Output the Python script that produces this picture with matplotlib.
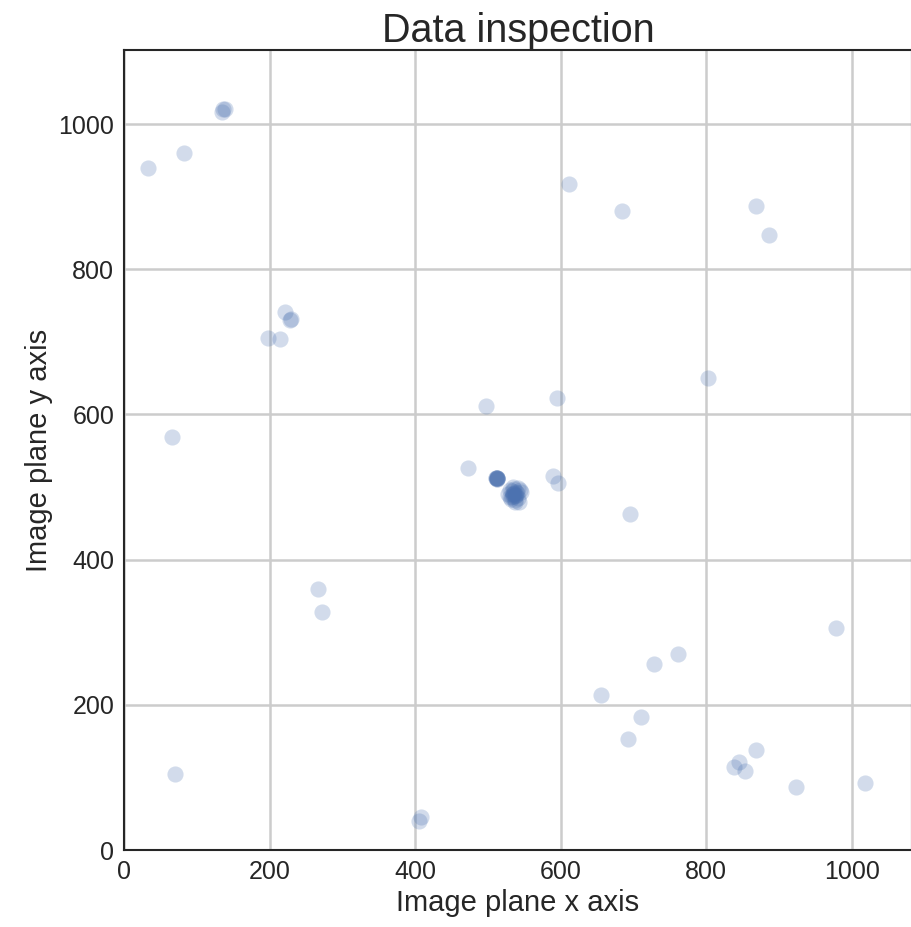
import matplotlib
matplotlib.use("Agg")
import matplotlib.pyplot as plt
import seaborn as sns

sns.set_style("white")
plt.rcParams['font.family'] = ['Liberation Sans', 'DejaVu Sans']

# detected centroid positions (pixels)
x_pos = [33, 83, 135, 136, 139, 66, 70, 198, 215, 221, 228, 229, 267, 272,
         406, 408, 473, 498,
         512, 512, 513, 511, 512, 513, 512, 511,
         528, 531, 533, 535, 536, 538, 540, 542, 544, 530, 534, 537, 539, 543, 545, 532, 541,
         534, 536, 538, 535, 537, 533, 539,
         590, 596, 595, 611, 685, 696, 656, 711, 692, 728, 761, 803, 869, 887,
         869, 845, 838, 854, 923, 979, 1018]
y_pos = [939, 960, 1016, 1021, 1021, 569, 105, 705, 704, 741, 730, 731, 360, 328,
         40, 46, 526, 612,
         512, 513, 511, 512, 512, 513, 511, 512,
         490, 486, 494, 488, 498, 482, 492, 485, 496, 496, 500, 479, 489, 480, 493, 484, 499,
         490, 492, 488, 491, 489, 487, 493,
         515, 506, 623, 918, 880, 463, 213, 183, 153, 256, 270, 650, 887, 847,
         138, 121, 114, 109, 87, 306, 92]

fig = plt.figure(figsize=(9.12, 9.27), dpi=100)
ax = fig.add_axes([0.136, 0.083, 0.864, 0.863])

ax.scatter(x_pos, y_pos, s=135, color='#4c72b0', alpha=0.25, linewidths=0, zorder=3)

ax.set_xlim(0, 1083)
ax.set_ylim(0, 1102)
ax.set_xticks([0, 200, 400, 600, 800, 1000])
ax.set_yticks([0, 200, 400, 600, 800, 1000])
ax.grid(True, color='#cccccc', linewidth=1.8)
ax.set_axisbelow(True)
for sp in ax.spines.values():
    sp.set_color('#262626')
    sp.set_linewidth(1.5)
ax.tick_params(labelsize=18, colors='#262626')

ax.set_xlabel("Image plane x axis", fontsize=21, color='#262626')
ax.set_ylabel("Image plane y axis", fontsize=21, color='#262626')
ax.set_title("Data inspection", fontsize=28.5, color='#262626')

fig.savefig("out.png", dpi=100)
